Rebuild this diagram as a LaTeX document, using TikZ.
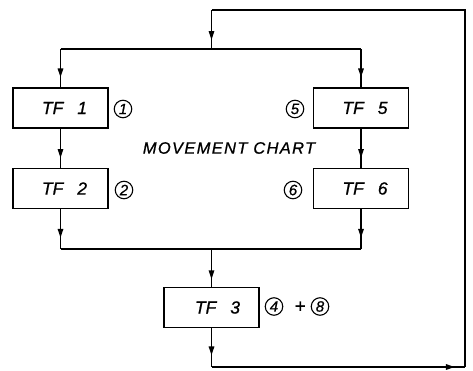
\documentclass[tikz,border=0pt]{standalone}
\usepackage{fontspec}
\setmainfont{Liberation Sans}[ItalicFeatures={FakeBold=0.8}]
\usetikzlibrary{arrows.meta,decorations.markings}
\tikzset{
  tfbox/.style={draw,line width=1.3pt,minimum width=95pt,minimum height=40pt,inner sep=0pt,
    font=\fontsize{17.5}{17.5}\selectfont\itshape},
  conn/.style={line width=1.5pt},
  midarrow/.style={conn,postaction={decorate},decoration={markings,
    mark=at position #1 with {\arrow{Triangle[length=9pt,width=5.5pt]}}}},
  midarrow/.default=0.75,
  circnum/.style={draw,circle,line width=1.1pt,minimum size=17.5pt,inner sep=0pt,
    font=\fontsize{15}{15}\selectfont\itshape},
  plain/.style={inner sep=0pt,font=\fontsize{19}{19}\selectfont\itshape},
  title/.style={inner sep=0pt,font=\fontsize{16.5}{16.5}\selectfont\itshape\addfontfeature{LetterSpace=8}}
}
\begin{document}
\begin{tikzpicture}[x=1pt,y=-1pt]
\useasboundingbox (0,0) rectangle (473,371);
% boxes
\node[tfbox] (tf1) at (60.5,108) {\kern8pt TF\hspace{0.8em}1};
\node[tfbox] (tf5) at (361,108) {\kern8pt TF\hspace{0.8em}5};
\node[tfbox] (tf2) at (60.5,188.5) {\kern8pt TF\hspace{0.8em}2};
\node[tfbox] (tf6) at (361,188.5) {\kern8pt TF\hspace{0.8em}6};
\node[tfbox] (tf3) at (211.5,307.5) {\kern12pt TF\hspace{0.8em}3};
% labels
\node[circnum] (c1) at (123,109) {1};
\node[circnum] (c5) at (295,109) {5};
\node[circnum] (c2) at (124,190) {2};
\node[circnum] (c6) at (293,190) {6};
\node[circnum] (c4) at (274,306.5) {4};
\node[plain] (plus) at (300,307) {+};
\node[circnum] (c8) at (320,306.5) {8};
\node[title] (mc) at (229,148) {MOVEMENT CHART};
% coordinates
\coordinate (top) at (211.5,10);
\coordinate (split) at (211.5,49);
\coordinate (sl) at (60.5,49);
\coordinate (sr) at (361,49);
\coordinate (ml) at (60.5,249);
\coordinate (mr) at (361,249);
\coordinate (merge) at (211.5,249);
\coordinate (bl) at (211.5,367);
\coordinate (br) at (465,367);
\coordinate (tr) at (465,10);
% connectors
\draw[midarrow=0.77] (top) -- (split);
\draw[conn] (sl) -- (sr);
\draw[midarrow=0.74] (sl) -- (tf1.north);
\draw[midarrow=0.74] (sr) -- (tf5.north);
\draw[midarrow=0.75] (tf1.south) -- (tf2.north);
\draw[midarrow=0.75] (tf5.south) -- (tf6.north);
\draw[midarrow=0.72] (tf2.south) -- (ml);
\draw[midarrow=0.72] (tf6.south) -- (mr);
\draw[conn] (ml) -- (mr);
\draw[midarrow=0.8] (merge) -- (tf3.north);
\draw[midarrow=0.7] (tf3.south) -- (bl);
\draw[midarrow=0.96] (bl) -- (br);
\draw[conn] (br) -- (tr) -- (top);
\end{tikzpicture}
\end{document}
